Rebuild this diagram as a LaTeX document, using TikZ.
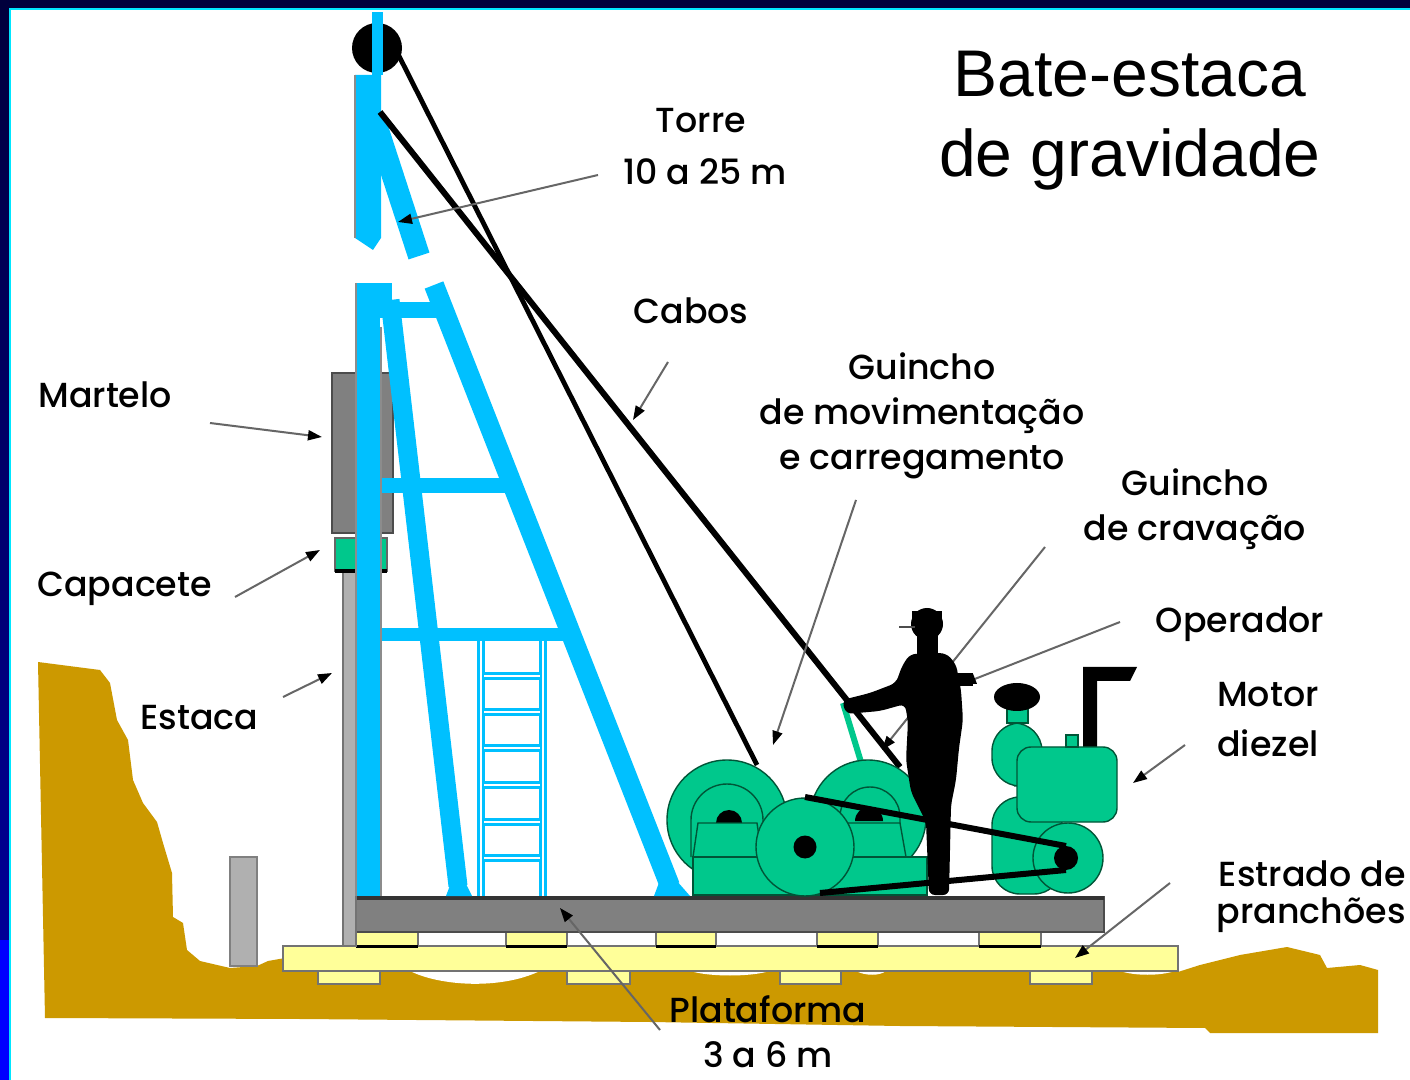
\documentclass[tikz,border=0pt]{standalone}
\usepackage{fontspec}
\setmainfont{Poppins}
\newfontfamily\labelfont{Poppins Medium}
\newfontfamily\titlefont{Liberation Sans}
\usetikzlibrary{arrows.meta}

\definecolor{towercyan}{RGB}{0,192,255}
\definecolor{machgreen}{RGB}{0,200,140}
\definecolor{machline}{RGB}{0,85,55}
\definecolor{soil}{RGB}{204,153,0}
\definecolor{plank}{RGB}{255,255,153}
\definecolor{steelgray}{RGB}{128,128,128}
\definecolor{pilegray}{RGB}{176,176,176}
\definecolor{framenavy}{RGB}{0,0,60}
\definecolor{frameblue}{RGB}{0,0,150}
\definecolor{brightblue}{RGB}{0,0,255}
\definecolor{framecyan}{RGB}{0,230,255}

\tikzset{
  lbl/.style={font=\labelfont\fontsize{17.4}{21}\selectfont, inner sep=0pt, text=black},
  ttl/.style={font=\titlefont\fontsize{33}{38}\selectfont, inner sep=0pt},
  pointer/.style={draw=black!60, line width=1pt, -{Triangle[length=7pt,width=5pt,color=black]}},
  cable/.style={draw=black, line width=2.2pt},
  tower/.style={draw=towercyan, line width=10pt, line cap=butt},
  machine/.style={fill=machgreen, draw=machline, line width=0.7pt},
  plankbox/.style={fill=plank, draw=black!55, line width=0.8pt},
}

\begin{document}
\begin{tikzpicture}[x=0.5pt,y=-0.5pt]
\useasboundingbox (0,0) rectangle (1410,1080);
\fill[white] (0,0) rectangle (1410,1080);

% ---- frame ----
\shade[top color=framenavy, bottom color=frameblue] (0,0) rectangle (10,940);
\fill[brightblue] (0,940) rectangle (10,1080);
\fill[framenavy] (0,0) rectangle (1410,8);
\fill[framecyan] (9,8) rectangle (1410,10);
\fill[framecyan] (9,8) rectangle (11,1080);

% ---- ground ----
\fill[soil] (38,662) -- (100,670) -- (110,683) -- (117,720) -- (128,740) -- (133,780)
  -- (143,803) -- (157,822) -- (163,843) -- (172,873) -- (173,917) -- (183,923)
  -- (187,950) -- (200,961) -- (230,968) -- (257,966) -- (268,961) -- (285,958)
  -- (1178,960) -- (1178,972) -- (1200,965) -- (1240,955) -- (1287,947) -- (1320,955)
  -- (1327,968) -- (1360,965) -- (1378,970) -- (1378,1033) -- (1210,1033) -- (1205,1028)
  -- (900,1026) -- (650,1022) -- (300,1019) -- (45,1018) -- cycle;
% gaps between the boards and the soil
\fill[white] (410,971) .. controls (440,986) and (500,990) .. (540,971) -- cycle;
\fill[white] (690,971) .. controls (710,977) and (750,977) .. (770,971) -- cycle;
\fill[white] (856,971) .. controls (865,976) and (880,976) .. (886,971) -- cycle;
\fill[white] (1120,971) .. controls (1135,976) and (1160,976) .. (1175,971) -- cycle;

% ---- boards and platform ----
\foreach \xa/\xb in {318/380, 567/630, 780/841, 1030/1092}
  \draw[plankbox] (\xa,971) rectangle (\xb,984);
\draw[plankbox] (283,946) rectangle (1178,971);
\foreach \xa/\xb in {356/418, 506/567, 656/716, 817/878, 979/1041}
  {\draw[plankbox] (\xa,932) rectangle (\xb,946);
   \draw[black, line width=1.5pt] (\xa,946) -- (\xb,946);}
\draw[fill=steelgray, draw=black!70, line width=0.8pt] (355,897) rectangle (1104,932);
\draw[black!80, line width=1.6pt] (355,898) -- (1104,898);

% ---- piles ----
\draw[fill=pilegray, draw=black!50, line width=1pt] (230,857) rectangle (257,966);
\draw[fill=pilegray, draw=black!55, line width=1pt] (343,571) rectangle (356,946);

% ---- hammer and helmet ----
\draw[fill=steelgray, draw=black!70, line width=1.2pt] (332,373) rectangle (393,533);
\draw[fill=machgreen, draw=black!60, line width=0.8pt] (335,538) rectangle (387,571);
\draw[black, line width=1.6pt] (335,571) -- (387,571);

% ---- tower, upper section ----
\draw[tower, line width=11pt] (374,118) -- (419,256);
\fill[towercyan] (355,75) -- (381,75) -- (381,238) -- (373,250) -- (355,238) -- cycle;
\draw[black!45, line width=1pt] (355,75) -- (355,238);
\fill[black] (377,48) circle (25);
\fill[towercyan] (372,12) rectangle (383,75);

% ---- tower, lower section ----
\draw[tower, line width=9.5pt] (390,300) -- (458,886);
\draw[tower, line width=10pt] (434,285) -- (670,886);
\fill[towercyan] (356,283) rectangle (380,896);
\fill[towercyan] (356,283) rectangle (392,303);
\fill[towercyan] (380,302) rectangle (445,318);
\fill[towercyan] (378,478) rectangle (513,493);
\fill[towercyan] (378,628) rectangle (578,641);
% feet
\fill[towercyan] (446,896) -- (452,880) -- (464,880) -- (472,896) -- cycle;
\fill[towercyan] (654,896) -- (660,880) -- (676,880) -- (690,896) -- cycle;
% ladder
\foreach \yy in {676,712,748,785,822,858}
  \draw[towercyan, line width=3.6pt] (481,\yy) -- (543,\yy);
\foreach \xx in {481,543}
  \draw[towercyan, line width=3.6pt] (\xx,641) -- (\xx,896);
\foreach \yy in {676,712,748,785,822,858}
  \draw[white, line width=1.1pt] (484,\yy) -- (540,\yy);
\foreach \xx in {481,543}
  \draw[white, line width=1.1pt] (\xx,641) -- (\xx,896);
% leader guide
\draw[black!45, line width=1pt] (381,327) -- (381,896);
\draw[black!45, line width=1pt] (356,283) -- (356,896);

% ---- label: Guincho de cravação (pointer runs behind the operator) ----
\node[lbl, anchor=base] (gcrav1) at (1195,496) {Guincho};
\node[lbl, anchor=base] (gcrav2) at (1195,541) {de cravação};
\coordinate (gcravA) at (1045,547);
\coordinate (gcravB) at (882,750);
\draw[pointer] (gcravA) -- (gcravB);

% ---- cables ----
\coordinate (sheaveOut) at (398,54);
\coordinate (mastTop) at (380,112);
\coordinate (drumOneTop) at (757,765);
\coordinate (drumTwoTop) at (900,767);
\draw[cable, line width=2.4pt] (sheaveOut) -- (drumOneTop);
\draw[cable, line width=3pt] (mastTop) -- (drumTwoTop);

% operating lever
\draw[machgreen, line width=3pt] (843,703) -- (861,762);

% ---- winches ----
\draw[machine] (727,820) circle (60);
\draw[machine] (868,818) circle (58);
\draw[machine] (691,857) -- (691,820) arc[start angle=180,end angle=360,radius=36] -- (763,857);
\draw[machine] (840,857) -- (840,817) arc[start angle=180,end angle=360,radius=30] -- (900,857);
\fill[black] (716,823) arc[start angle=180,end angle=360,radius=13] -- cycle;
\fill[black] (855,821) arc[start angle=180,end angle=360,radius=14] -- cycle;
\draw[machine] (698,823) -- (757,823) -- (762,857) -- (693,857) -- cycle;
\draw[machine] (847,823) -- (900,823) -- (906,857) -- (840,857) -- cycle;
\draw[machine] (693,857) rectangle (927,895);
\draw[machine] (805,847) circle (49);
\fill[black] (805,847) circle (11.5);

% ---- diesel engine ----
\draw[machine, rounded corners=14pt] (992,797) rectangle (1062,894);
\draw[machine] (1068,858) circle (35);
\draw[machine, rounded corners=14pt] (992,723) rectangle (1042,786);
\draw[machine] (1007,708) rectangle (1028,723);
\fill[black] (1017,697) ellipse (23 and 14);
\fill[black] (1083,667) -- (1137,667) -- (1130,681) -- (1097,681) -- (1097,748) -- (1083,748) -- cycle;
\draw[machine, rounded corners=7pt] (1017,747) rectangle (1117,822);
\draw[machine] (1066,735) rectangle (1078,747);

% ---- belt ----
\fill[black] (1066,858) circle (12);
\draw[black, line width=3pt] (805,797) -- (1066,846);
\draw[black, line width=3pt] (820,893) -- (1066,870);

% ---- operator ----
\fill[black] (927,624) circle (16);
\fill[black] (912,611) rectangle (942,623);
\draw[black!70, line width=1.4pt] (899,627) -- (915,627);
\fill[black] (917,634) rectangle (938,660);
\fill[black, rounded corners=3pt] (910,654) -- (946,653) -- (956,664) -- (961,690)
  -- (963,720) -- (959,748) -- (956,780) -- (951,805) -- (949,895) -- (929,895)
  -- (926,822) -- (911,792) -- (906,760) -- (908,722) -- (905,704) -- (880,711)
  -- (846,714) -- (842,700) -- (870,693) -- (896,683) -- (902,666) -- cycle;
\fill[black] (958,673) rectangle (973,686);

% ---- title ----
\node[ttl, anchor=base] (title1) at (1130,97) {Bate-estaca};
\node[ttl, anchor=base] (title2) at (1130,177) {de gravidade};

% ---- labels ----
\node[lbl, anchor=base] (torre1) at (701,133) {Torre};
\node[lbl, anchor=base] (torre2) at (705,185) {10 a 25 m};
\node[lbl, anchor=base] (cabos) at (691,324) {Cabos};
\node[lbl, anchor=base] (gmov1) at (922,380) {Guincho};
\node[lbl, anchor=base] (gmov2) at (922,425) {de movimentação};
\node[lbl, anchor=base] (gmov3) at (922,470) {e carregamento};
\node[lbl, anchor=base] (oper) at (1240,633) {Operador};
\node[lbl, anchor=base] (motor1) at (1268,707) {Motor};
\node[lbl, anchor=base] (motor2) at (1268,757) {diezel};
\node[lbl, anchor=base east] (estr1) at (1406,886) {Estrado de};
\node[lbl, anchor=base east] (estr2) at (1406,923) {pranchões};
\node[lbl, anchor=base west] (mart) at (38,408) {Martelo};
\node[lbl, anchor=base west] (capa) at (37,597) {Capacete};
\node[lbl, anchor=base west] (esta) at (140,730) {Estaca};
\node[lbl, anchor=base] (plat1) at (768,1022) {Plataforma};
\node[lbl, anchor=base] (plat2) at (768,1067) {3 a 6 m};

% ---- pointers ----
\coordinate (torreA) at (598,175);  \coordinate (torreB) at (398,222);
\coordinate (cabosA) at (668,362);  \coordinate (cabosB) at (633,420);
\coordinate (gmovA) at (856,500);   \coordinate (gmovB) at (773,745);
\coordinate (operA) at (1120,622);  \coordinate (operB) at (962,684);
\coordinate (motorA) at (1185,745); \coordinate (motorB) at (1133,783);
\coordinate (estrA) at (1170,883);  \coordinate (estrB) at (1075,958);
\coordinate (platA) at (660,1030);  \coordinate (platB) at (560,908);
\coordinate (martA) at (210,423);   \coordinate (martB) at (322,437);
\coordinate (capA) at (235,597);    \coordinate (capB) at (320,550);
\coordinate (estA) at (283,697);    \coordinate (estB) at (332,673);
\foreach \a/\b in {torreA/torreB, cabosA/cabosB, gmovA/gmovB, operA/operB,
                   motorA/motorB, estrA/estrB, platA/platB, martA/martB,
                   capA/capB, estA/estB}
  \draw[pointer] (\a) -- (\b);
\end{tikzpicture}
\end{document}
